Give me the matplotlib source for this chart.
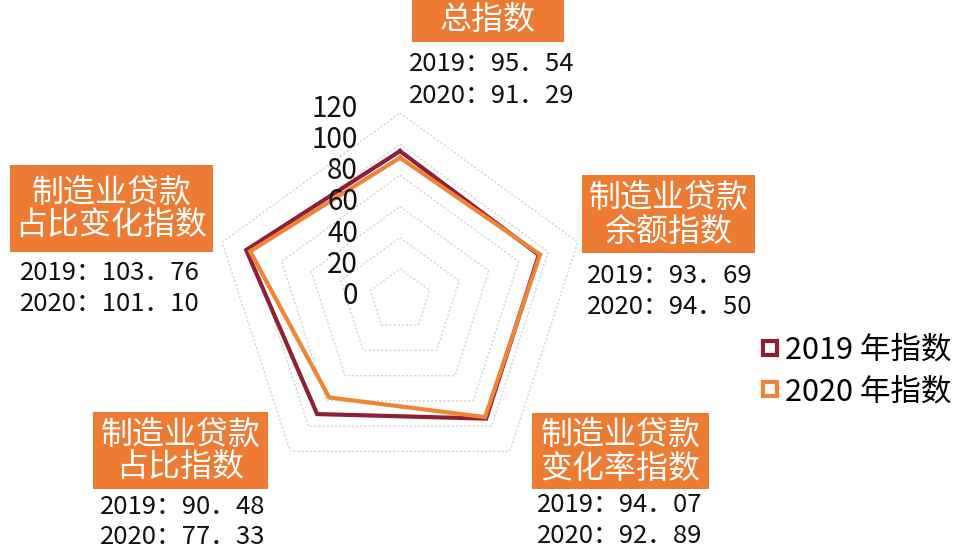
import numpy as np
import matplotlib
matplotlib.use("Agg")
import matplotlib.pyplot as plt
import matplotlib.transforms as mtransforms
from matplotlib.patches import Rectangle
from matplotlib.lines import Line2D

plt.rcParams['font.family'] = ['Noto Sans CJK SC', 'DejaVu Sans']

# ---- data ----
categories = ["总指数", "制造业贷款\n余额指数", "制造业贷款\n变化率指数",
              "制造业贷款\n占比指数", "制造业贷款\n占比变化指数"]
values_2019 = [95.54, 93.69, 94.07, 90.48, 103.76]
values_2020 = [91.29, 94.50, 92.89, 77.33, 101.10]
series_names = ["2019 年指数", "2020 年指数"]
years = ["2019", "2020"]
r_ticks = [0, 20, 40, 60, 80, 100, 120]

C2019 = "#8E1F35"
C2020 = "#EE8536"
BOX = "#ED7B33"

W, H = 955, 551
fig = plt.figure(figsize=(W / 100, H / 100), dpi=100)

def fx(x):
    return x / W

def fy(y):
    return 1 - y / H

# polar axes: centre (400,300) px, radius 187 px
cx, cy, R = 400, 300, 187
ax = fig.add_axes([fx(cx - R), fy(cy + R), 2 * R / W, 2 * R / H], polar=True)
ax.set_theta_offset(np.pi / 2)
ax.set_theta_direction(-1)
ax.set_ylim(0, r_ticks[-1])
ax.grid(False)
ax.spines['polar'].set_visible(False)
ax.set_xticks([])
ax.set_yticks([])
ax.patch.set_alpha(0)

n = len(categories)
angles = np.linspace(0, 2 * np.pi, n, endpoint=False)
ang_closed = np.concatenate([angles, angles[:1]])

# pentagon grid
for r in r_ticks[1:]:
    ax.plot(ang_closed, [r] * (n + 1), color="#d2d2d2", lw=1.0,
            ls=(0, (1.5, 1.5)), zorder=1)

# data lines
for vals, col in [(values_2019, C2019), (values_2020, C2020)]:
    v = list(vals) + [vals[0]]
    ax.plot(ang_closed, v, color=col, lw=3.0, zorder=3, solid_joinstyle='miter')

# radial tick labels
off = mtransforms.offset_copy(ax.transData, fig=fig, x=-42, y=4, units='dots')
for r in r_ticks:
    ax.text(0, r, str(r), transform=off, ha='right', va='center',
            fontsize=20, color='#111111', zorder=4)

# category boxes and values
boxes = [
    (412, -2, 564, 42),
    (582, 175, 755, 253),
    (532, 413, 709, 489),
    (93, 412, 268, 489),
    (10, 165, 213, 252),
]
val_pos = [
    (492, 64, 96),
    (670, 276, 307),
    (620, 505, 536),
    (183, 507, 537),
    (110, 273, 304),
]
for i, cat in enumerate(categories):
    x0, y0, x1, y1 = boxes[i]
    fig.patches.append(Rectangle((fx(x0), fy(y1)), (x1 - x0) / W, (y1 - y0) / H,
                                 transform=fig.transFigure, facecolor=BOX,
                                 edgecolor='none', zorder=0))
    fig.text(fx((x0 + x1) / 2), fy((y0 + y1) / 2 + 1), cat, ha='center', va='center',
             fontsize=23, color='white', linespacing=1.05)
    vx, vy1, vy2 = val_pos[i]
    t1 = f"{years[0]}：{values_2019[i]:.2f}".replace('.', '．')
    t2 = f"{years[1]}：{values_2020[i]:.2f}".replace('.', '．')
    fig.text(fx(vx), fy(vy1), t1, ha='center', va='center', fontsize=18.5,
             color='#111111')
    fig.text(fx(vx), fy(vy2), t2, ha='center', va='center', fontsize=18.5,
             color='#111111')

# legend
handles = [Line2D([], [], marker='s', ls='none', mfc='white', mec=c, mew=3, ms=10)
           for c in (C2019, C2020)]
fig.legend(handles, series_names, loc='upper left',
           bbox_to_anchor=(fx(762), fy(335)), frameon=False,
           prop={'size': 22},
           handlelength=0.5, handletextpad=0.26, labelspacing=0.33,
           borderpad=0, borderaxespad=0)

fig.savefig("out.png", dpi=100, facecolor='white')
